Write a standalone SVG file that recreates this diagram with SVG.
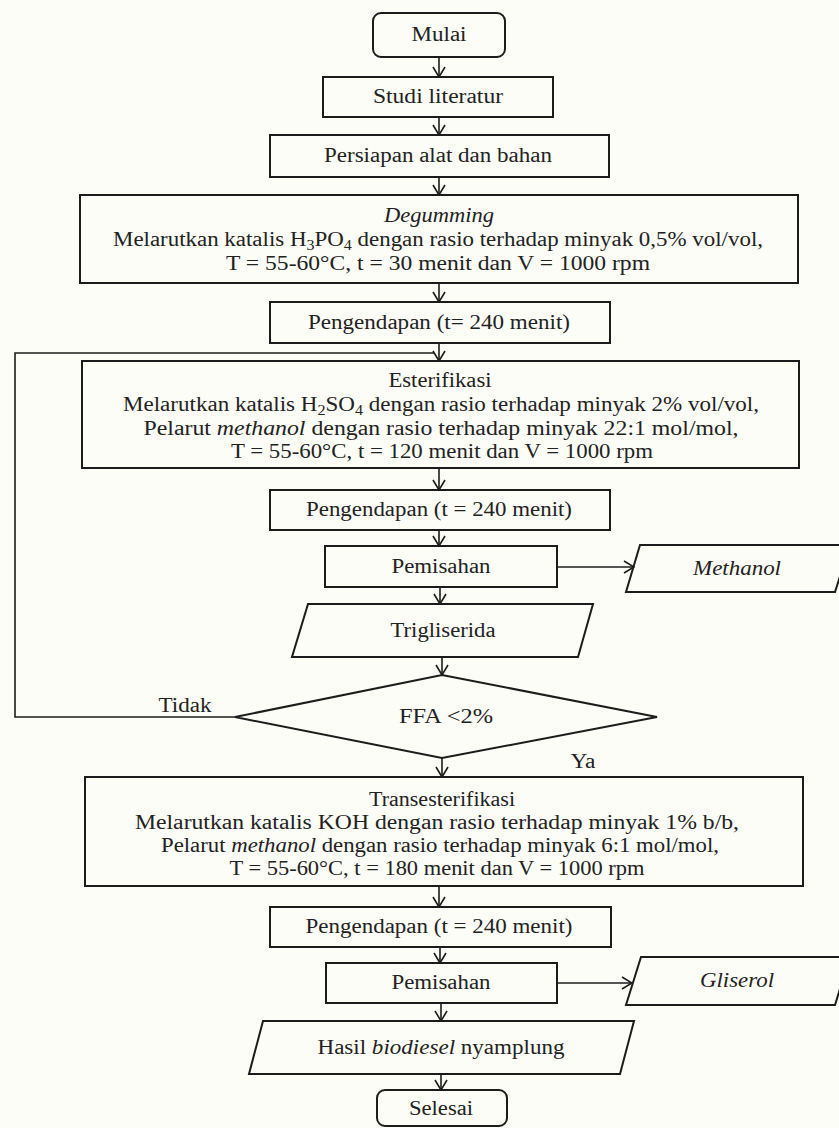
<svg xmlns="http://www.w3.org/2000/svg" width="839" height="1128" viewBox="0 0 839 1128">
<defs>
<style>
.b{fill:none;stroke:#1c1c1c;stroke-width:2}
.c{fill:none;stroke:#1c1c1c;stroke-width:1.6}
text{font-family:"Liberation Serif","Times New Roman",serif;font-size:20px;fill:#222;text-anchor:middle}
.i{font-style:italic}
</style>
<marker id="ah" viewBox="0 0 12 14" refX="11" refY="7" markerWidth="12" markerHeight="14" markerUnits="userSpaceOnUse" orient="auto">
<path d="M1,1 L11,7 L1,13" fill="none" stroke="#1c1c1c" stroke-width="1.6"/>
</marker>
</defs>
<rect width="839" height="1128" fill="#fdfdf7"/>
<g id="connectors">
<line class="c" x1="439" y1="57" x2="439" y2="77" marker-end="url(#ah)"/>
<line class="c" x1="439" y1="117" x2="439" y2="135" marker-end="url(#ah)"/>
<line class="c" x1="439" y1="177" x2="439" y2="195" marker-end="url(#ah)"/>
<line class="c" x1="439" y1="283" x2="439" y2="302" marker-end="url(#ah)"/>
<line class="c" x1="439" y1="343" x2="439" y2="361" marker-end="url(#ah)"/>
<path class="c" d="M235,717 H15 V353 H434"/>
<line class="c" x1="439" y1="468" x2="439" y2="490" marker-end="url(#ah)"/>
<line class="c" x1="439" y1="530" x2="439" y2="546" marker-end="url(#ah)"/>
<line class="c" x1="557" y1="567" x2="634" y2="567" marker-end="url(#ah)"/>
<line class="c" x1="440" y1="587" x2="440" y2="604" marker-end="url(#ah)"/>
<line class="c" x1="442" y1="657" x2="442" y2="675" marker-end="url(#ah)"/>
<line class="c" x1="442" y1="758" x2="442" y2="777" marker-end="url(#ah)"/>
<line class="c" x1="439" y1="886" x2="439" y2="907" marker-end="url(#ah)"/>
<line class="c" x1="440" y1="947" x2="440" y2="963" marker-end="url(#ah)"/>
<line class="c" x1="557" y1="983" x2="632" y2="983" marker-end="url(#ah)"/>
<line class="c" x1="441" y1="1003" x2="441" y2="1021" marker-end="url(#ah)"/>
<line class="c" x1="441" y1="1074" x2="441" y2="1090" marker-end="url(#ah)"/>
<text x="185" y="712" textLength="53" lengthAdjust="spacingAndGlyphs">Tidak</text>
<text x="583" y="768" textLength="25" lengthAdjust="spacingAndGlyphs">Ya</text>
</g>
<g id="mulai"><rect class="b" x="373" y="13" width="132" height="44" rx="8"/><text x="439" y="41" textLength="55" lengthAdjust="spacingAndGlyphs">Mulai</text></g>
<g id="studi"><rect class="b" x="323" y="77" width="230" height="40"/><text x="438" y="103" textLength="130" lengthAdjust="spacingAndGlyphs">Studi literatur</text></g>
<g id="persiapan"><rect class="b" x="270" y="135" width="339" height="42"/><text x="438" y="162" textLength="228" lengthAdjust="spacingAndGlyphs">Persiapan alat dan bahan</text></g>
<g id="degumming"><rect class="b" x="80" y="195" width="718" height="88"/>
<text x="439" y="222" class="i" textLength="110" lengthAdjust="spacingAndGlyphs">Degumming</text>
<text x="438" y="246" textLength="650" lengthAdjust="spacingAndGlyphs">Melarutkan katalis H<tspan font-size="14" dy="4">3</tspan><tspan dy="-4">PO</tspan><tspan font-size="14" dy="4">4</tspan><tspan dy="-4"> dengan rasio terhadap minyak 0,5% vol/vol,</tspan></text>
<text x="438" y="270" textLength="424" lengthAdjust="spacingAndGlyphs">T = 55-60°C, t = 30 menit dan V = 1000 rpm</text></g>
<g id="pengendapan1"><rect class="b" x="270" y="302" width="340" height="41"/><text x="439" y="329" textLength="262" lengthAdjust="spacingAndGlyphs">Pengendapan (t= 240 menit)</text></g>
<g id="esterifikasi"><rect class="b" x="82" y="361" width="717" height="107"/>
<text x="440" y="387" textLength="103" lengthAdjust="spacingAndGlyphs">Esterifikasi</text>
<text x="441" y="411" textLength="636" lengthAdjust="spacingAndGlyphs">Melarutkan katalis H<tspan font-size="14" dy="4">2</tspan><tspan dy="-4">SO</tspan><tspan font-size="14" dy="4">4</tspan><tspan dy="-4"> dengan rasio terhadap minyak 2% vol/vol,</tspan></text>
<text x="441" y="435" textLength="595" lengthAdjust="spacingAndGlyphs">Pelarut <tspan class="i">methanol</tspan> dengan rasio terhadap minyak 22:1 mol/mol,</text>
<text x="442" y="458" textLength="422" lengthAdjust="spacingAndGlyphs">T = 55-60°C, t = 120 menit dan V = 1000 rpm</text></g>
<g id="pengendapan2"><rect class="b" x="270" y="490" width="340" height="40"/><text x="439" y="516" textLength="266" lengthAdjust="spacingAndGlyphs">Pengendapan (t = 240 menit)</text></g>
<g id="pemisahan1"><rect class="b" x="325" y="546" width="232" height="41"/><text x="441" y="573" textLength="99" lengthAdjust="spacingAndGlyphs">Pemisahan</text></g>
<g id="methanol"><polygon class="b" points="640,545 850,545 835,592 626,592"/><text x="737" y="575" class="i" textLength="88" lengthAdjust="spacingAndGlyphs">Methanol</text></g>
<g id="trigliserida"><polygon class="b" points="308,604 593,604 578,657 292,657"/><text x="443" y="637" textLength="105" lengthAdjust="spacingAndGlyphs">Trigliserida</text></g>
<g id="ffa"><polygon class="b" points="442,675 657,717 442,758 235,717"/><text x="446" y="723" textLength="94" lengthAdjust="spacingAndGlyphs">FFA &lt;2%</text></g>
<g id="transesterifikasi"><rect class="b" x="85" y="777" width="718" height="109"/>
<text x="442" y="806" textLength="146" lengthAdjust="spacingAndGlyphs">Transesterifikasi</text>
<text x="437" y="829" textLength="604" lengthAdjust="spacingAndGlyphs">Melarutkan katalis KOH dengan rasio terhadap minyak 1% b/b,</text>
<text x="440" y="852" textLength="558" lengthAdjust="spacingAndGlyphs">Pelarut <tspan class="i">methanol</tspan> dengan rasio terhadap minyak 6:1 mol/mol,</text>
<text x="437" y="875" textLength="415" lengthAdjust="spacingAndGlyphs">T = 55-60°C, t = 180 menit dan V = 1000 rpm</text></g>
<g id="pengendapan3"><rect class="b" x="270" y="907" width="341" height="40"/><text x="439" y="933" textLength="267" lengthAdjust="spacingAndGlyphs">Pengendapan (t = 240 menit)</text></g>
<g id="pemisahan2"><rect class="b" x="326" y="963" width="231" height="40"/><text x="441" y="989" textLength="99" lengthAdjust="spacingAndGlyphs">Pemisahan</text></g>
<g id="gliserol"><polygon class="b" points="641,957 850,957 835,1005 626,1005"/><text x="737" y="987" class="i" textLength="74" lengthAdjust="spacingAndGlyphs">Gliserol</text></g>
<g id="hasil"><polygon class="b" points="263,1021 634,1021 620,1074 249,1074"/><text x="441" y="1054" textLength="247" lengthAdjust="spacingAndGlyphs">Hasil <tspan class="i">biodiesel</tspan> nyamplung</text></g>
<g id="selesai"><rect class="b" x="377" y="1090" width="130" height="36" rx="8"/><text x="441" y="1115" textLength="64" lengthAdjust="spacingAndGlyphs">Selesai</text></g>
</svg>
